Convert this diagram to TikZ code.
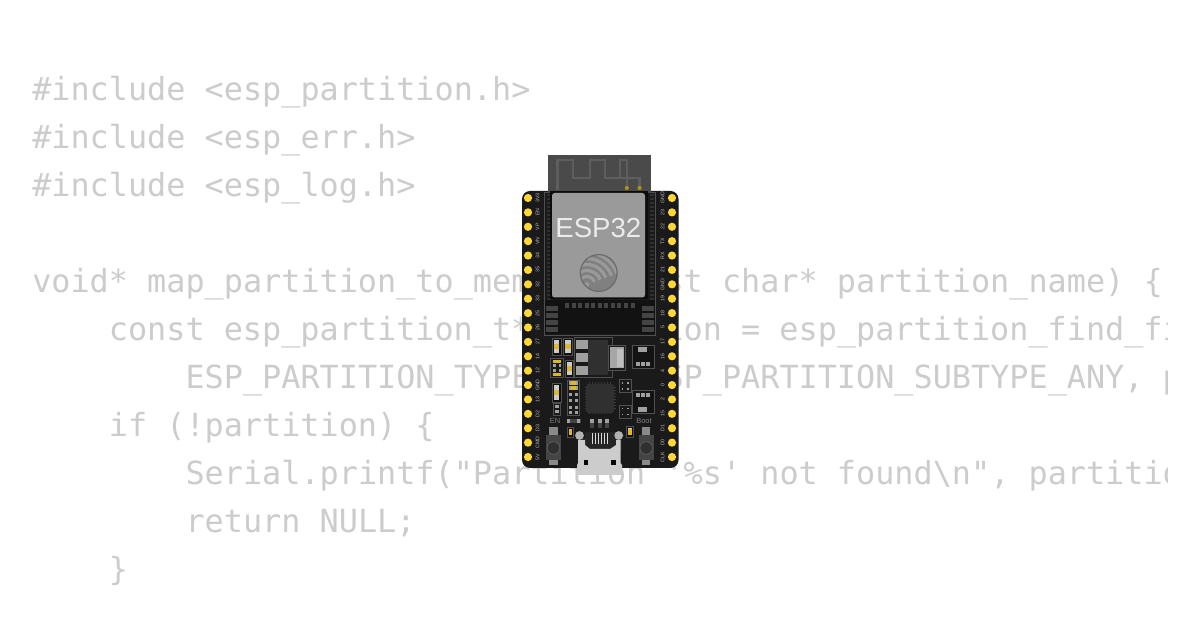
\documentclass[tikz,border=0pt]{standalone}
\usepackage{fontspec}
\newfontfamily\codefont{DejaVu Sans Mono}
\newfontfamily\labelfont{Liberation Sans}
\definecolor{codegray}{HTML}{CCCCCC}
\definecolor{pcb}{HTML}{1A1A1A}
\definecolor{pinyel}{HTML}{FBD838}
\definecolor{antenna}{HTML}{4A4A4A}
\definecolor{trace}{HTML}{5E5E5E}
\definecolor{shield}{HTML}{9A9A9A}
\definecolor{outl}{HTML}{505050}
\definecolor{pad}{HTML}{444444}
\definecolor{lpad}{HTML}{A0A0A0}
\definecolor{gold}{HTML}{B0900F}
\definecolor{btn}{HTML}{454545}
\definecolor{tab}{HTML}{8A8A8A}
\definecolor{body}{HTML}{303030}
\definecolor{resw}{HTML}{CBCBCB}
\definecolor{resy}{HTML}{DDB82C}
\newcommand{\Bx}[5]{\fill[#5] (#1,#2) rectangle (#3,#4);}
\newcommand{\Ol}[4]{\draw[outl,line width=.6pt] (#1,#2) rectangle (#3,#4);}
% vertical two-terminal part: outline, white body, yellow centre
\newcommand{\Res}[4]{\fill[black!40!pcb] (#1,#2) rectangle (#3,#4);\Ol{#1}{#2}{#3}{#4}
  \fill[resw] ({#1+1.6},{#2+1.6}) rectangle ({#3-1.6},{#4-1.6});
  \fill[resy] ({#1+1.6},{(#2+#4)/2-2.8}) rectangle ({#3-1.6},{(#2+#4)/2+2.8});}
% four-corner small part
\newcommand{\Qd}[4]{\Ol{#1}{#2}{#3}{#4}
  \foreach \qx in {3.4,8.6}\foreach \qy in {3.6,9.6}{\fill[lpad] ({#1+\qx-.9},{#2+\qy-.9}) rectangle ({#1+\qx+.9},{#2+\qy+.9});}}
\begin{document}
\begin{tikzpicture}[x=.75pt,y=-.75pt,
  codeline/.style={anchor=base west,inner sep=0pt,text=codegray,font=\codefont\fontsize{23.87}{24}\selectfont},
  pinlabel/.style={inner sep=0pt,text=white!72!black,font=\labelfont\fontsize{3.9}{4}\selectfont},
  silk/.style={inner sep=0pt,text=white!50!black,font=\labelfont\fontsize{5.6}{6}\selectfont}]
\useasboundingbox (0,0) rectangle (1200,630);
\fill[white] (0,0) rectangle (1200,630);
\begin{scope}
\clip (0,0) rectangle (1167.5,630);
\node[codeline] (l1) at (32,100.5) {\#include <esp\_partition.h>};
\node[codeline] (l2) at (32,148.5) {\#include <esp\_err.h>};
\node[codeline] (l3) at (32,196.5) {\#include <esp\_log.h>};
\node[codeline] (l5) at (32,292.5) {void* map\_partition\_to\_memory(const char* partition\_name) \{};
\node[codeline] (l6) at (108.6,340.5) {const esp\_partition\_t* partition = esp\_partition\_find\_fi};
\node[codeline] (l7) at (185.3,388.5) {ESP\_PARTITION\_TYPE\_ANY, ESP\_PARTITION\_SUBTYPE\_ANY, p};
\node[codeline] (l8) at (108.6,436.5) {if (!partition) \{};
\node[codeline] (l9) at (185.3,484.5) {Serial.printf("Partition '\%s' not found\textbackslash n", partition};
\node[codeline] (l10) at (185.3,532.5) {return NULL;};
\node[codeline] (l11) at (108.6,580.5) {\}};
\end{scope}
% board
\fill[pcb,rounded corners=6pt] (522,191) rectangle (678.5,468);
% pins and labels
\foreach \n/\t [count=\i from 0] in {a/3V3,b/EN,c/VP,d/VN,e/34,f/35,g/32,h/33,j/25,k/26,m/27,n/14,o/12,p/GND,q/13,r/D2,s/D3,t/CMD,u/5V}{
  \fill[pinyel] (528,{198+14.39*\i}) circle (4.1);
  \node[pinlabel,rotate=90] (L\n) at (537.5,{198+14.39*\i}) {\t};
}
\foreach \n/\t [count=\i from 0] in {a/GND,b/23,c/22,d/TX,e/RX,f/21,g/GND,h/19,j/18,k/5,m/17,n/16,o/4,p/0,q/2,r/15,s/D1,t/D0,u/CLK}{
  \fill[pinyel] (672,{198+14.39*\i}) circle (4.1);
  \node[pinlabel,rotate=90] (R\n) at (662.5,{198+14.39*\i}) {\t};
}
% module
\draw[outl,line width=.6pt] (544,192) rectangle (655.5,335);
\fill[black!30!pcb] (544.5,300) rectangle (655,334.5);
\foreach \i in {0,...,10}{\Bx{{565+6.55*\i}}{303}{{569+6.55*\i}}{308}{pad}}
\foreach \yy in {306,313,320,327}{\Bx{546}{\yy}{558}{{\yy+5}}{pad}\Bx{642}{\yy}{653.5}{{\yy+5}}{pad}}
\foreach \i in {0,...,26}{
  \Bx{546.5}{{194+4*\i}}{550.5}{{195.6+4*\i}}{black!30!pad}
  \Bx{649.5}{{194+4*\i}}{653.5}{{195.6+4*\i}}{black!30!pad}}
% antenna
\Bx{548}{155}{651}{193}{antenna}
\draw[trace,line width=1.9pt,line join=miter] (557.5,190) -- (557.5,160) -- (573,160) -- (573,178) -- (590,178) -- (590,160) -- (605,160) -- (605,178) -- (620,178) -- (620,160) -- (627,160) -- (627,187);
\draw[trace,line width=1.9pt] (620,178) -- (639.5,178) -- (639.5,187);
\fill[gold] (626.8,188) circle (2.1);
\fill[gold] (639.5,188) circle (2.1);
% shield can
\fill[black!55!pcb] (550,191.5) rectangle (647.5,299.5);
\fill[shield,rounded corners=2pt] (552,193) rectangle (645,297.5);
\node[inner sep=0pt,text=white!92!black,font=\labelfont\fontsize{20.7}{21}\selectfont,anchor=base] (esp) at (598.3,238) {ESP32};
% espressif logo
\begin{scope}
\clip (598.7,273) circle (18.5);
\fill[black!50!white] (598.7,273) circle (18.5);
\foreach \r/\w in {8/2.2,14/2.4,20/2.4,26/2.4,32/2.4}{
  \draw[shield,line width=\w] (587,284.5) ++(-20:\r) arc[start angle=-20,delta angle=-110,radius=\r];
}
\fill[shield] (587,284.5) circle (2.4);
\end{scope}
\draw[black!58!white,line width=.9pt] (598.7,273) circle (18.4);
% regulator block
\draw[outl,line width=.6pt] (574,337.5) -- (612.5,337.5) -- (612.5,377) -- (574,377) -- cycle;
\Bx{588}{340}{608}{375}{body}
\foreach \yy in {340,353,366}{\Bx{576}{\yy}{588}{{\yy+9}}{lpad}}
\draw[outl,line width=.6pt,fill=pcb] (608,345.5) rectangle (625,370);
\fill[white!65!black] (609.5,347) rectangle (623.5,368.5);
\fill[white!75!black] (617,349) rectangle (622.5,367);
% small parts left
\Res{552}{338}{561}{355}
\Res{563.5}{338}{572.5}{355}
\Ol{550.5}{358}{563}{377}
\foreach \yy in {360,373}{
  \Bx{553}{\yy}{561}{{\yy+2.8}}{resy}}
\foreach \xx in {553,558.6}{\foreach \yy in {364.5,369.5}{\Bx{\xx}{\yy}{{\xx+2.6}}{{\yy+2.4}}{lpad}}}
\Res{565}{360}{573.5}{377}
\Res{552}{383}{561}{402}
\Ol{553.5}{403}{560}{415}
\Bx{555}{405.5}{558.5}{408.5}{lpad}
\Bx{555}{410}{558.5}{413}{lpad}
% resistor array
\Ol{567}{380}{579}{415}
\foreach \yy in {381.5,386.5}{
  \Bx{568.5}{\yy}{577.5}{{\yy+3.4}}{resy}
  \Bx{568.5}{\yy}{570.5}{{\yy+3.4}}{lpad}
  \Bx{575.5}{\yy}{577.5}{{\yy+3.4}}{lpad}}
\foreach \yy in {393,399.5,406,411}{
  \Bx{568.5}{\yy}{571.5}{{\yy+3}}{lpad}
  \Bx{574.5}{\yy}{577.5}{{\yy+3}}{lpad}}
% MCU
\foreach \i in {0,...,7}{
  \Bx{{589.2+3*\i}}{382.5}{{590.2+3*\i}}{414.5}{black!15!pad}
  \Bx{584.5}{{387.2+3*\i}}{615.5}{{388.2+3*\i}}{black!15!pad}}
\fill[body,rounded corners=2pt] (586,384) rectangle (614,413);
% right SOTs
\fill[black!25!pcb] (632,345) rectangle (654,368);
\Ol{632}{345}{654}{368}
\Bx{638}{347}{647}{352.5}{lpad}
\foreach \xx in {636,641.2,646.4}{\Bx{\xx}{362}{{\xx+3.8}}{366}{lpad}}
\fill[black!25!pcb] (632,390) rectangle (654,413);
\Ol{632}{390}{654}{413}
\Bx{638}{407}{647}{412}{lpad}
\foreach \xx in {636,641.2,646.4}{\Bx{\xx}{393}{{\xx+3.8}}{397.5}{lpad}}
\Qd{619}{379.5}{631.5}{392.5}
\Qd{619}{405}{631.5}{418}
% EN / Boot labels
\node[silk] (en) at (555,421) {EN};
\node[silk] (boot) at (644,421) {Boot};
% buttons
\foreach \cx in {553.5,646.2}{
  \Bx{{\cx-4.2}}{427}{{\cx+4.2}}{436}{tab}
  \Bx{{\cx-4.2}}{459}{{\cx+4.2}}{465.5}{tab}
  \Bx{{\cx-7.6}}{435}{{\cx+7.6}}{460}{btn}
  \fill[body] (\cx,448) circle (6.3);
  \draw[pad!85!white,line width=.5pt] (\cx,448) circle (6.3);
}
% small parts by USB
\Res{567.5}{427}{573.5}{437}
\Res{626.5}{426.5}{633.5}{437}
\Bx{566.5}{419}{581}{423}{pad}
\Bx{566.5}{419}{569.5}{423}{lpad}
\Bx{577}{419}{580}{423}{lpad}
% components above USB
\foreach \xx in {590,597.5,605}{
  \Bx{\xx}{419}{{\xx+4}}{423}{lpad}
  \Bx{\xx}{423}{{\xx+4}}{428}{pad}}
% USB
\fill[black!45!pad] (585,432) rectangle (622,450);
\foreach \xx in {592,595,598,601,604,607}{\draw[white!85!black,line width=.7pt] (\xx,433) -- (\xx,444);}
\fill[white!80!black] (578,440) -- (585,440) -- (585,445) -- (590,449) -- (610,449) -- (616,445) -- (616,440) -- (620.5,440) -- (620.5,463) -- (622,465) -- (622,475) -- (577,475) -- (577,465) -- (578,463) -- cycle;
\fill[black!70!pcb] (583.5,460) rectangle (588,465);
\fill[black!70!pcb] (611,460) rectangle (615.5,465);
\fill[white!70!black] (579.5,435.5) circle (4.4);
\fill[white!70!black] (618.7,435.5) circle (4.4);
\end{tikzpicture}
\end{document}
